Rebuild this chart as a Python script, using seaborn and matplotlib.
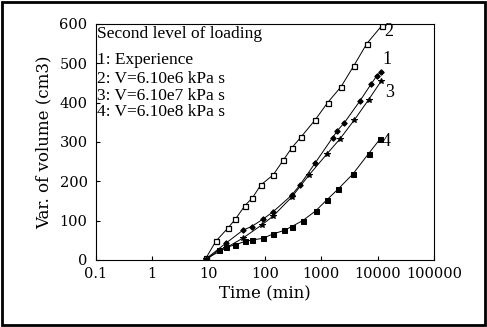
import matplotlib
matplotlib.use("Agg")
import matplotlib.pyplot as plt
import seaborn as sns
import pandas as pd
from matplotlib.ticker import FixedLocator, FixedFormatter, LogLocator, NullFormatter
from matplotlib.patches import Rectangle

# Data
t1 = [9, 20, 41, 58, 93, 141, 300, 420, 776, 1590, 1940, 2580, 4900, 7670, 9680, 11500]
v1 = [3, 42, 76, 85, 104, 123, 165, 191, 246, 311, 329, 349, 405, 447, 468, 478]

t2 = [9, 13.5, 22, 30, 44, 60, 85, 140, 210, 300, 440, 780, 1300, 2240, 3800, 6450, 11800]
v2 = [5, 48, 81, 104, 138, 158, 191, 216, 253, 285, 313, 356, 400, 440, 494, 550, 595]

t3 = [9, 20, 40, 90, 141, 300, 600, 1270, 2130, 3870, 6900, 11500]
v3 = [3, 30, 55, 90, 112, 160, 215, 270, 307, 356, 407, 454]

t4 = [9, 15, 20, 29, 44, 60, 93, 138, 219, 300, 468, 800, 1260, 1990, 3670, 6900, 11000]
v4 = [0, 25, 32, 38, 47, 51, 55, 66, 75, 85, 100, 125, 153, 180, 219, 270, 307]

series_names = ["1", "2", "3", "4"]
legend_lines = ["Second level of loading", "1: Experience", "2: V=6.10e6 kPa s",
                "3: V=6.10e7 kPa s", "4: V=6.10e8 kPa s"]
x_ticks = [0.1, 1, 10, 100, 1000, 10000, 100000]
x_tick_labels = ["0.1", "1", "10", "100", "1000", "10000", "100000"]
y_ticks = [0, 100, 200, 300, 400, 500, 600]

sns.set_theme(style="white")
plt.rcParams['font.family'] = ['Liberation Serif', 'DejaVu Serif']

fig = plt.figure(figsize=(4.87, 3.27), dpi=100)
ax = fig.add_axes([0.197, 0.205, 0.694, 0.722])

data = [(t1, v1), (t2, v2), (t3, v3), (t4, v4)]
styles = [
    dict(marker="D", markersize=2.8, markerfacecolor="black", markeredgecolor="black"),
    dict(marker="s", markersize=3.6, markerfacecolor="white", markeredgecolor="black", markeredgewidth=0.9),
    dict(marker="*", markersize=4.0, markerfacecolor="black", markeredgecolor="black"),
    dict(marker="s", markersize=3.6, markerfacecolor="black", markeredgecolor="black"),
]
label_offsets = [(1, 9), (2, -4), (3, -8), (1, -2)]
for name, (t, v), st, off in zip(series_names, data, styles, label_offsets):
    df = pd.DataFrame({"t": t, "v": v})
    sns.lineplot(data=df, x="t", y="v", ax=ax, color="black", linewidth=0.7,
                 estimator=None, sort=False, **st)
    ax.annotate(name, (t[-1], v[-1]), xytext=off, textcoords="offset points",
                fontsize=13, va="center", ha="left", color="black")

ax.set_xscale("log")
ax.set_xlim(0.1, 100000)
ax.set_ylim(0, 600)
ax.xaxis.set_major_locator(FixedLocator(x_ticks))
ax.xaxis.set_major_formatter(FixedFormatter(x_tick_labels))
ax.xaxis.set_minor_locator(LogLocator(base=10, subs=range(2, 10)))
ax.xaxis.set_minor_formatter(NullFormatter())
ax.set_yticks(y_ticks)
ax.tick_params(axis="both", which="major", direction="in", length=3, width=0.8,
               labelsize=10.5, colors="black")
ax.tick_params(axis="x", which="major", pad=5)
ax.tick_params(axis="y", which="major", pad=6)
ax.tick_params(axis="x", which="minor", direction="in", length=1.8, width=0.6, colors="black")
ax.tick_params(bottom=True, left=True)
for lab in ax.get_xticklabels() + ax.get_yticklabels():
    lab.set_family("DejaVu Serif")
for s in ax.spines.values():
    s.set_color("black")
    s.set_linewidth(0.8)

ax.set_xlabel("Time (min)", fontsize=12, color="black", labelpad=3, family="DejaVu Serif")
ax.set_ylabel("Var. of volume (cm3)", fontsize=12, color="black", labelpad=5, family="DejaVu Serif")

ys = [0.99, 0.88, 0.80, 0.73, 0.66]
for txt, yy in zip(legend_lines, ys):
    ax.text(0.003, yy, txt, transform=ax.transAxes, fontsize=12.5, va="top", ha="left",
            color="black")

fig.patches.append(Rectangle((0.004, 0.006), 0.992, 0.988, transform=fig.transFigure,
                             fill=False, edgecolor="black", linewidth=2))

fig.savefig("out.png", dpi=100)
